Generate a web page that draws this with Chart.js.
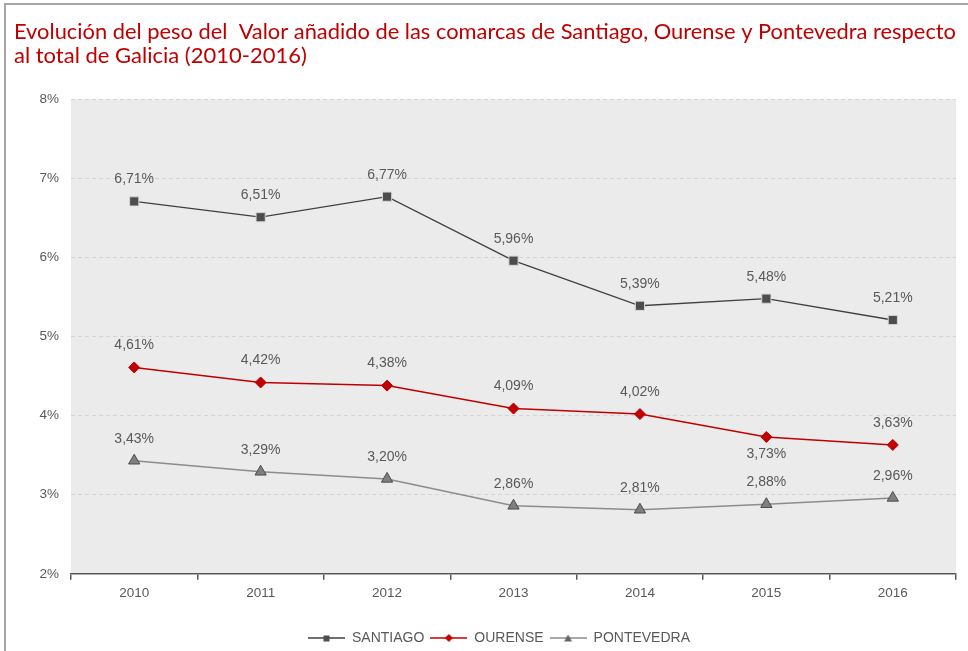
<!DOCTYPE html>
<html>
<head>
<meta charset="utf-8">
<script src="https://cdn.jsdelivr.net/npm/chart.js@4/dist/chart.umd.min.js"></script>
<style>
  html, body { margin: 0; padding: 0; background: #fff; }
  #wrap { width: 968px; height: 651px; position: relative; }
</style>
</head>
<body>
<div id="wrap"><canvas id="grafico" width="968" height="651"></canvas></div>
<script>
const anos = ['2010', '2011', '2012', '2013', '2014', '2015', '2016'];
const santiago = [6.71, 6.51, 6.77, 5.96, 5.39, 5.48, 5.21];
const ourense = [4.61, 4.42, 4.38, 4.09, 4.02, 3.73, 3.63];
const pontevedra = [3.43, 3.29, 3.20, 2.86, 2.81, 2.88, 2.96];
const ticksY = [2, 3, 4, 5, 6, 7, 8];

const tituloTexto = [
    'Evolución del peso del  Valor añadido de las comarcas de Santiago, Ourense y Pontevedra respecto',
    'al total de Galicia (2010-2016)'
];

const fonte = 'Liberation Sans, Arial, sans-serif';

// pequeno icono da lenda: liña + marcador
function iconoLenda(cor, corMarca, estilo) {
    const c = document.createElement('canvas');
    c.width = 37;
    c.height = 10;
    const ctx = c.getContext('2d');
    ctx.strokeStyle = cor;
    ctx.lineWidth = 1.5;
    ctx.beginPath();
    ctx.moveTo(0, 5);
    ctx.lineTo(37, 5);
    ctx.stroke();
    ctx.fillStyle = corMarca;
    ctx.beginPath();
    if (estilo === 'rect') {
        ctx.rect(15.5, 2.5, 6, 6);
    } else if (estilo === 'rectRot') {
        ctx.moveTo(18.5, 1); ctx.lineTo(22.5, 5); ctx.lineTo(18.5, 9); ctx.lineTo(14.5, 5);
    } else {
        ctx.moveTo(18.5, 1.5); ctx.lineTo(22.5, 8.5); ctx.lineTo(14.5, 8.5);
    }
    ctx.closePath();
    ctx.fill();
    return c;
}

const fundo = {
    id: 'fundo',
    afterLayout(chart) {
        // a lenda do orixinal está un pouco desprazada á dereita
        chart.legend.left += 14;
        chart.legend.right += 14;
    },
    beforeDraw(chart) {
        const ctx = chart.ctx;
        const a = chart.chartArea;
        ctx.save();
        ctx.strokeStyle = '#a6a6a6';
        ctx.lineWidth = 2;
        ctx.beginPath();
        ctx.moveTo(5, 651);
        ctx.lineTo(5, 4);
        ctx.lineTo(968, 4);
        ctx.stroke();
        ctx.fillStyle = '#ebebeb';
        ctx.fillRect(a.left, a.top, a.right - a.left, a.bottom - a.top);
        ctx.restore();
    }
};

const etiquetas = {
    id: 'etiquetas',
    afterDatasetsDraw(chart) {
        const ctx = chart.ctx;
        ctx.save();
        ctx.font = '14px ' + fonte;
        ctx.fillStyle = '#595959';
        ctx.textAlign = 'center';
        ctx.textBaseline = 'middle';
        chart.data.datasets.forEach((ds, i) => {
            const meta = chart.getDatasetMeta(i);
            meta.data.forEach((pt, j) => {
                const txt = ds.data[j].toFixed(2).replace('.', ',') + '%';
                const abaixo = ds.abaixo && ds.abaixo.includes(j);
                ctx.fillText(txt, pt.x, abaixo ? pt.y + 17 : pt.y - 22);
            });
        });
        ctx.restore();
    }
};

new Chart(document.getElementById('grafico'), {
    type: 'line',
    data: {
        labels: anos,
        datasets: [{
            label: 'SANTIAGO',
            data: santiago,
            borderColor: '#404040',
            borderWidth: 1.3,
            pointStyle: 'rect',
            pointRadius: 6.5,
            pointBackgroundColor: '#4d4d4d',
            pointBorderColor: '#d6d6d6',
            pointBorderWidth: 1,
            legendIcon: iconoLenda('#404040', '#4d4d4d', 'rect')
        },
        {
            label: 'OURENSE',
            data: ourense,
            borderColor: '#c00000',
            borderWidth: 1.5,
            pointStyle: 'rectRot',
            pointRadius: 5.5,
            pointBackgroundColor: '#c00000',
            pointBorderColor: '#c00000',
            pointBorderWidth: 1,
            abaixo: [5],
            legendIcon: iconoLenda('#c00000', '#c00000', 'rectRot')
        },
        {
            label: 'PONTEVEDRA',
            data: pontevedra,
            borderColor: '#8c8c8c',
            borderWidth: 1.5,
            pointStyle: 'triangle',
            pointRadius: 6.5,
            pointBackgroundColor: '#7f7f7f',
            pointBorderColor: '#4d4d4d',
            pointBorderWidth: 1,
            legendIcon: iconoLenda('#8c8c8c', '#666666', 'triangle')
        }]
    },
    options: {
        responsive: false,
        animation: false,
        layout: {
            padding: { left: 14, right: 12, top: 0, bottom: -4 }
        },
        scales: {
            y: {
                min: 2,
                max: 8,
                afterBuildTicks(axis) {
                    axis.ticks = ticksY.map(v => ({ value: v }));
                },
                afterFit(axis) {
                    axis.width = 57;
                },
                border: { display: false, dash: [4, 3] },
                grid: {
                    color: '#d4d4d4',
                    drawTicks: false
                },
                ticks: {
                    padding: 12,
                    color: '#595959',
                    font: { family: fonte, size: 13.5 },
                    callback: v => v + '%'
                }
            },
            x: {
                offset: true,
                afterFit(axis) {
                    axis.height += 19;
                },
                border: { display: true, color: '#595959', width: 1.5 },
                grid: {
                    offset: true,
                    drawOnChartArea: false,
                    drawTicks: true,
                    tickLength: 6,
                    color: '#595959',
                    lineWidth: 1.5
                },
                ticks: {
                    padding: 5,
                    color: '#595959',
                    font: { family: fonte, size: 13.5 }
                }
            }
        },
        plugins: {
            title: {
                display: true,
                text: tituloTexto,
                align: 'start',
                color: '#c00000',
                font: { family: 'Lato, sans-serif', size: 22, weight: 'normal', lineHeight: 1.1 },
                padding: { top: 20, bottom: 31 }
            },
            legend: {
                position: 'bottom',
                labels: {
                    usePointStyle: true,
                    pointStyleWidth: 37,
                    color: '#595959',
                    font: { family: fonte, size: 14 },
                    padding: 6,
                    generateLabels(chart) {
                        return chart.data.datasets.map((ds, i) => ({
                            text: ds.label,
                            pointStyle: ds.legendIcon,
                            fillStyle: ds.borderColor,
                            strokeStyle: ds.borderColor,
                            lineWidth: 0,
                            fontColor: '#595959',
                            datasetIndex: i,
                            hidden: false
                        }));
                    }
                }
            },
            tooltip: { enabled: false }
        }
    },
    plugins: [fundo, etiquetas]
});
</script>
</body>
</html>
